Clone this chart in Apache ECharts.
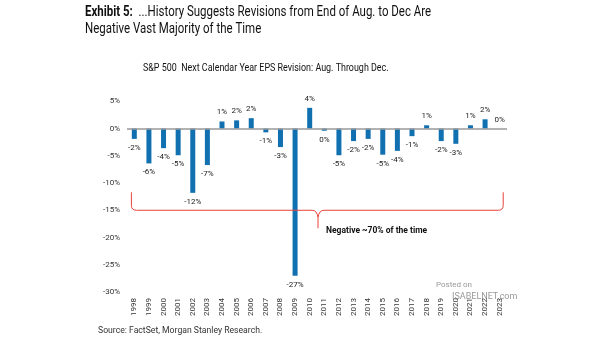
<!DOCTYPE html>
<html><head><meta charset="utf-8">
<script src="https://cdn.jsdelivr.net/npm/echarts@6/dist/echarts.min.js"></script>
<style>html,body{margin:0;padding:0;background:#fff}#c{width:605px;height:341px}</style>
</head><body><div id="c"></div>
<script>
const years = ['1998','1999','2000','2001','2002','2003','2004','2005','2006','2007','2008','2009','2010','2011','2012','2013','2014','2015','2016','2017','2018','2019','2020','2021','2022','2023'];
const revisions = [-1.9,-6.4,-3.6,-4.9,-11.8,-6.7,1.3,1.5,1.9,-0.7,-3.4,-27.0,3.8,-0.4,-4.9,-2.3,-1.9,-4.8,-4.1,-1.4,0.6,-2.3,-2.8,0.6,1.7,0.0];
const yTicks = [5,0,-5,-10,-15,-20,-25,-30];

const FONT = 'Roboto';
const chart = echarts.init(document.getElementById('c'), null, {renderer:'canvas'});

const barData = revisions.map(v => ({
  value: v,
  label: {position: v < 0 ? 'bottom' : 'top'}
}));

// brace annotation anchors (category index, value)
const brace = {left:-0.2, right:25.24, mid:12.57, top:-11.7, line:-15, tip:-18.3};

chart.setOption({
  animation:false,
  grid:{left:127, right:98, top:101.3, bottom:49},
  xAxis:{
    type:'category', data:years,
    axisLine:{show:false, onZero:false}, axisTick:{show:false},
    axisLabel:{rotate:90, fontFamily:FONT, fontSize:8, color:'#333', margin:6}
  },
  yAxis:{
    type:'value', min:-30, max:5, interval:5,
    axisLine:{show:false}, axisTick:{show:false}, splitLine:{show:false},
    axisLabel:{fontFamily:FONT, fontSize:8, color:'#333', margin:7,
      formatter: v => yTicks.indexOf(v) >= 0 ? v + '%' : ''}
  },
  series:[
    {
      type:'bar', data:barData, barWidth:5,
      itemStyle:{color:'#1170b0'},
      label:{show:true, distance:5, fontFamily:FONT, fontSize:8, color:'#222',
        formatter: p => Math.round(p.value) + '%'},
      markLine:{silent:true, symbol:'none', label:{show:false},
        lineStyle:{color:'#999', width:1.5, type:'solid'},
        data:[{yAxis:0}]}
    },
    {
      type:'custom', data:[[0,0]], silent:true, z:5,
      renderItem:(params, api) => {
        const x0 = api.coord([0,0])[0];
        const bw = api.size([1,0])[0];
        const X = i => x0 + i*bw;
        const Y = v => api.coord([0,v])[1];
        const xl = X(brace.left), xr = X(brace.right), xm = X(brace.mid);
        const yt = Y(brace.top), yl = Y(brace.line), yp = Y(brace.tip);
        const r = 5;
        const d = `M${xl},${yt} L${xl},${yl-r} Q${xl},${yl} ${xl+r},${yl} L${xm-6},${yl} Q${xm-1},${yl} ${xm},${yl+7} Q${xm+1},${yl} ${xm+6},${yl} L${xr-r},${yl} Q${xr},${yl} ${xr},${yl-r} L${xr},${yt} M${xm},${yl+7} L${xm},${yp}`;
        return {type:'group', children:[
          {type:'path', shape:{pathData:d}, style:{stroke:'#e8413a', lineWidth:1, fill:null}},
          {type:'text', x:xm+8, y:yp+3, style:{text:'Negative ~70% of the time', font:'bold 8.5px ' + FONT, fill:'#111', textVerticalAlign:'middle'}}
        ]};
      }
    }
  ],
  graphic:[
    {type:'text', x:85, y:12.7, scaleX:0.82, style:{rich:{b:{font:'bold 14px ' + FONT, fill:'#111'}, n:{font:'14px ' + FONT, fill:'#111'}}, text:'{b|Exhibit 5:}{n|  ...History Suggests Revisions from End of Aug. to Dec Are}', verticalAlign:'middle'}},
    {type:'text', x:85, y:29.3, scaleX:0.82, style:{text:'Negative Vast Majority of the Time', font:'14px ' + FONT, fill:'#111', verticalAlign:'middle'}},
    {type:'text', x:143, y:68, scaleX:0.85, style:{text:'S&P 500  Next Calendar Year EPS Revision: Aug. Through Dec.', font:'10.5px ' + FONT, fill:'#111', verticalAlign:'middle'}},
    {type:'text', x:98, y:331, scaleX:0.96, style:{text:'Source: FactSet, Morgan Stanley Research.', font:'9px ' + FONT, fill:'#333', verticalAlign:'middle'}},
    {type:'text', left:436, top:281, style:{text:'Posted on', font:'8px ' + FONT, fill:'#999'}},
    {type:'text', left:452, top:292, style:{text:'ISABELNET.com', font:'9px ' + FONT, fill:'#999'}}
  ]
});
</script></body></html>
